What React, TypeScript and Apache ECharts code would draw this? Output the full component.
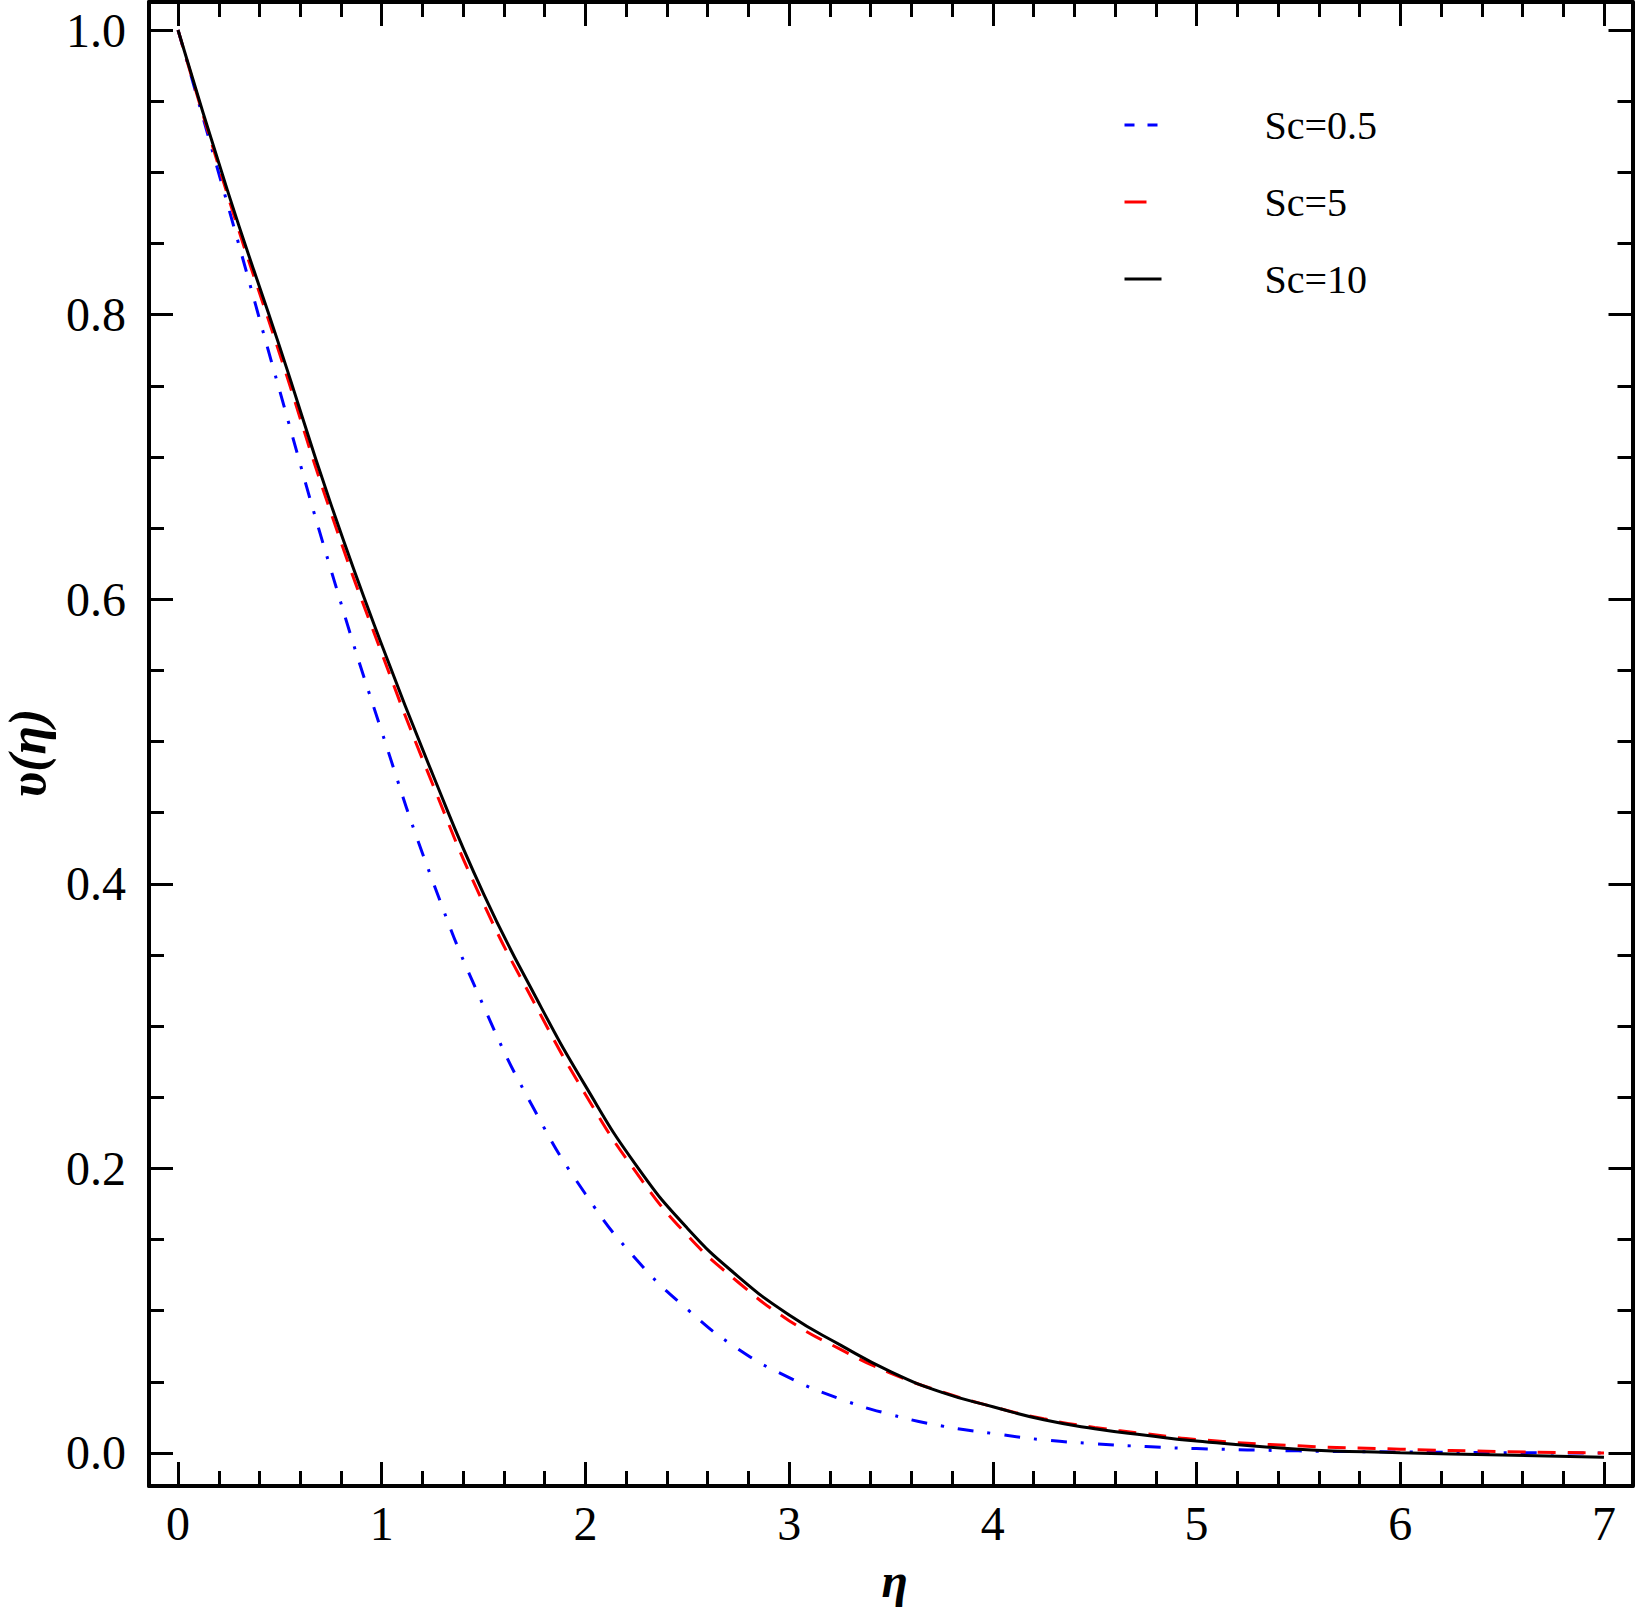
import React, { useEffect, useRef } from "react";
import * as echarts from "echarts";

// eta grid
const eta = [0, 0.25, 0.5, 0.75, 1.0, 1.25, 1.5, 1.75, 2.0, 2.25, 2.5, 2.75, 3.0, 3.25, 3.5, 3.75, 4.0, 4.25, 4.5, 4.75, 5.0, 5.5, 6.0, 6.5, 7.0];
// v(eta) for Sc = 0.5
const sc05 = [1.0, 0.874, 0.746, 0.621, 0.507, 0.402, 0.314, 0.241, 0.182, 0.136, 0.101, 0.073, 0.053, 0.038, 0.027, 0.019, 0.0137, 0.0092, 0.0065, 0.0045, 0.0031, 0.0015, 0.0007, 0.0002, 0.0];
// v(eta) for Sc = 5
const sc5 = [1.0, 0.881, 0.772, 0.661, 0.562, 0.470, 0.386, 0.316, 0.252, 0.197, 0.153, 0.120, 0.093, 0.073, 0.056, 0.043, 0.0325, 0.024, 0.018, 0.0135, 0.0095, 0.005, 0.0027, 0.001, 0.0];
// v(eta) for Sc = 10
const sc10 = [1.0, 0.884, 0.777, 0.667, 0.568, 0.477, 0.393, 0.322, 0.258, 0.202, 0.158, 0.124, 0.097, 0.076, 0.057, 0.0426, 0.0325, 0.0233, 0.0171, 0.0125, 0.0084, 0.0027, 0.0002, -0.0014, -0.003];

const seriesNames = ["Sc=0.5", "Sc=5", "Sc=10"];

const xMajorTicks = [0, 1, 2, 3, 4, 5, 6, 7];
const xMinorTicks = [0.2, 0.4, 0.6, 0.8, 1.2, 1.4, 1.6, 1.8, 2.2, 2.4, 2.6, 2.8, 3.2, 3.4, 3.6, 3.8, 4.2, 4.4, 4.6, 4.8, 5.2, 5.4, 5.6, 5.8, 6.2, 6.4, 6.6, 6.8];
const yMajorTicks = [0, 0.2, 0.4, 0.6, 0.8, 1.0];
const yMinorTicks = [0.05, 0.1, 0.15, 0.25, 0.3, 0.35, 0.45, 0.5, 0.55, 0.65, 0.7, 0.75, 0.85, 0.9, 0.95];

const FONT = "Liberation Serif";
const X_MIN = -0.1425;
const X_MAX = 7.14;
const Y_MIN = -0.0232;
const Y_MAX = 1.0197;

function pairs(ys: number[]) {
  return eta.map((x, i) => [x, ys[i]]);
}

function makeAxis(kind: "x" | "y", position: string, ticks: number[], len: number, showLine: boolean, labels: boolean, extra: any = {}) {
  return {
    type: "value",
    position,
    min: kind === "x" ? X_MIN : Y_MIN,
    max: kind === "x" ? X_MAX : Y_MAX,
    axisLine: { show: showLine, onZero: false, lineStyle: { color: "#000", width: 4 } },
    axisTick: {
      show: true,
      inside: true,
      length: len,
      customValues: ticks,
      lineStyle: { color: "#000", width: 3 },
    },
    axisLabel: labels
      ? {
          show: true,
          customValues: ticks,
          fontFamily: FONT,
          fontSize: 48,
          color: "#000",
          margin: kind === "x" ? 13 : 23,
          formatter: (v: number) => (kind === "x" ? String(Math.round(v)) : v.toFixed(1)),
        }
      : { show: false },
    splitLine: { show: false },
    minorTick: { show: false },
    ...extra,
  };
}

export default function App() {
  const ref = useRef<HTMLDivElement>(null);
  useEffect(() => {
    if (!ref.current) return;
    const chart = echarts.init(ref.current, null, { renderer: "svg" });
    const hidden = { opacity: 0, borderWidth: 0 };
    const option: any = {
      animation: false,
      backgroundColor: "#fff",
      grid: {
        left: 149,
        top: 2,
        right: 2.5,
        bottom: 126,
        containLabel: false,
        outerBoundsMode: "none",
      },
      legend: {
        orient: "vertical",
        left: 1118,
        top: 100,
        itemWidth: 37,
        itemHeight: 14,
        itemGap: 37,
        textStyle: { fontFamily: FONT, fontSize: 40, color: "#000", lineHeight: 40, padding: [0, 0, 0, 98] },
        data: [
          { name: seriesNames[0], itemStyle: hidden, lineStyle: { type: [10, 13], width: 3, color: "#0000ff" } },
          { name: seriesNames[1], itemStyle: hidden, lineStyle: { type: [22, 20], width: 3, color: "#ff0000" } },
          { name: seriesNames[2], itemStyle: hidden, lineStyle: { type: "solid", width: 3, color: "#000000" } },
        ],
      },
      xAxis: [
        makeAxis("x", "bottom", xMajorTicks, 24, true, true, {
          name: "η",
          nameLocation: "middle",
          nameGap: 74,
          nameTextStyle: {
            fontFamily: FONT,
            fontStyle: "italic",
            fontWeight: "bold",
            fontSize: 48,
            lineHeight: 40,
            padding: [0, 0, 0, 8],
            color: "#000",
          },
        }),
        makeAxis("x", "bottom", xMinorTicks, 15, false, false),
        makeAxis("x", "top", xMajorTicks, 24, true, false),
        makeAxis("x", "top", xMinorTicks, 15, false, false),
      ],
      yAxis: [
        makeAxis("y", "left", yMajorTicks, 24, true, true, {
          name: "υ(η)",
          nameLocation: "middle",
          nameGap: 99,
          nameTextStyle: {
            fontFamily: FONT,
            fontStyle: "italic",
            fontWeight: "bold",
            fontSize: 52,
            lineHeight: 46,
            padding: [0, 18, 0, 0],
            color: "#000",
          },
        }),
        makeAxis("y", "left", yMinorTicks, 15, false, false),
        makeAxis("y", "right", yMajorTicks, 24, true, false),
        makeAxis("y", "right", yMinorTicks, 15, false, false),
      ],
      series: [
        {
          name: seriesNames[0],
          type: "line",
          data: pairs(sc05),
          symbol: "none",
          smooth: 0.5,
          lineStyle: { color: "#0000ff", width: 3, type: [16, 14, 3, 14] },
          itemStyle: { color: "#0000ff" },
          z: 2,
        },
        {
          name: seriesNames[1],
          type: "line",
          data: pairs(sc5),
          symbol: "none",
          smooth: 0.5,
          lineStyle: { color: "#ff0000", width: 3, type: [18, 12] },
          itemStyle: { color: "#ff0000" },
          z: 3,
        },
        {
          name: seriesNames[2],
          type: "line",
          data: pairs(sc10),
          symbol: "none",
          smooth: 0.5,
          lineStyle: { color: "#000000", width: 3, type: "solid" },
          itemStyle: { color: "#000000" },
          z: 4,
        },
      ],
    };
    chart.setOption(option);
    return () => chart.dispose();
  }, []);
  return (
    <div
      ref={ref}
      style={{ position: "absolute", left: 0, top: 0, width: 1635, height: 1612, background: "#fff" }}
    />
  );
}
